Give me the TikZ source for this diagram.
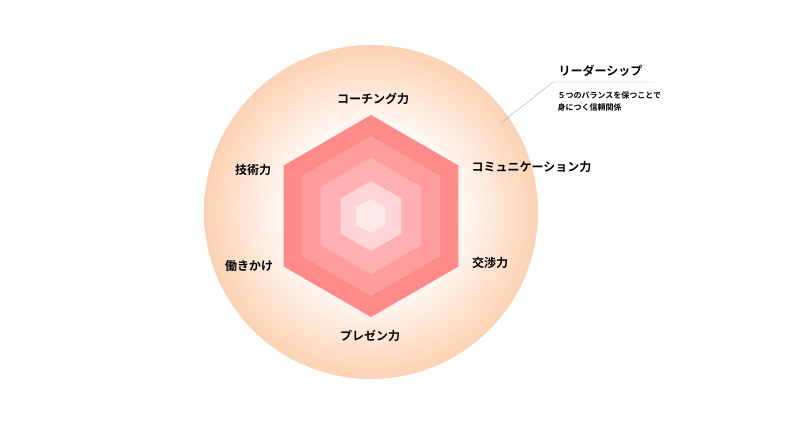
\documentclass[tikz,border=0pt]{standalone}
\usepackage{fontspec}
\setmainfont{Noto Sans CJK JP}
\newfontfamily\jpbold{Noto Sans CJK JP Bold}
\definecolor{peach}{HTML}{FDD2B3}
\pgfdeclareradialshading{glow}{\pgfpoint{0bp}{0bp}}{%
  color(0bp)=(white); color(11bp)=(white); color(25bp)=(peach); color(50bp)=(peach)}
\begin{document}
\begin{tikzpicture}[x=1pt,y=-1pt,
	axis/.style={font=\jpbold\fontsize{12}{14}\selectfont},
	note/.style={font=\jpbold\fontsize{8}{12}\selectfont,align=left,anchor=north west}]
	\useasboundingbox (0,0) rectangle (800,431);
	% background circle
	\shade[shading=glow] (371,212) circle (167);
	% hexagon layers
	\foreach \r/\c in {101/FF8A8A,80/FF9C9C,58/FFB0B0,35/FFD5D8,17/FFE9EA}{
		\definecolor{hexfill}{HTML}{\c}
		\fill[hexfill] (371,216) ++(90:\r) -- ++(210:\r) -- ++(270:\r) -- ++(330:\r) -- ++(30:\r) -- ++(90:\r) -- cycle;
	}
	% axes
	\node[axis] (coach) at (373,99) {コーチング力};
	\node[axis] (tech) at (253,170) {技術力};
	\node[axis,anchor=west] (comm) at (468,167) {コミュニケーション力};
	\node[axis] (nego) at (490,263) {交渉力};
	\node[axis] (act) at (249,266) {働きかけ};
	\node[axis] (pres) at (370,336) {プレゼン力};
	% leadership note
	\node[axis,anchor=west] (lead) at (555,71) {リーダーシップ};
	\node[note] (desc) at (554,88) {５つのバランスを保つことで\\身につく信頼関係};
	\coordinate (tip) at (501,123);
	\coordinate (bend) at (553,82);
	\draw[gray!70,thin] (tip) -- (bend) -- (655,82);
\end{tikzpicture}
\end{document}
